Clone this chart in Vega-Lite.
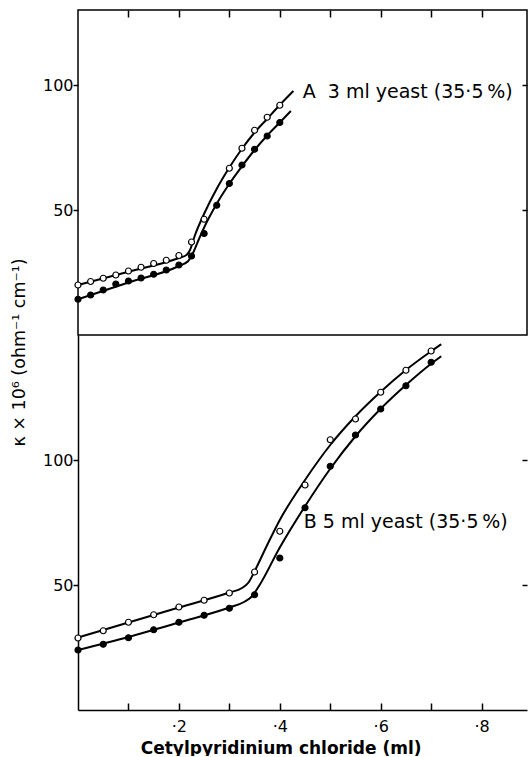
{
  "$schema": "https://vega.github.io/schema/vega-lite/v6.json",
  "background": "white",
  "padding": {"left": 9, "top": 8, "right": 2, "bottom": 0},
  "datasets": {
    "pts": [
      {"panel": "A", "series": "open", "x": 0, "y": 20},
      {"panel": "A", "series": "open", "x": 0.025, "y": 21.4},
      {"panel": "A", "series": "open", "x": 0.05, "y": 22.7},
      {"panel": "A", "series": "open", "x": 0.075, "y": 24},
      {"panel": "A", "series": "open", "x": 0.1, "y": 25.6},
      {"panel": "A", "series": "open", "x": 0.125, "y": 27.1},
      {"panel": "A", "series": "open", "x": 0.15, "y": 28.6},
      {"panel": "A", "series": "open", "x": 0.175, "y": 29.9},
      {"panel": "A", "series": "open", "x": 0.2, "y": 31.8},
      {"panel": "A", "series": "open", "x": 0.225, "y": 37.2},
      {"panel": "A", "series": "open", "x": 0.25, "y": 46.3},
      {"panel": "A", "series": "open", "x": 0.3, "y": 66.7},
      {"panel": "A", "series": "open", "x": 0.325, "y": 74.7},
      {"panel": "A", "series": "open", "x": 0.35, "y": 81.9},
      {"panel": "A", "series": "open", "x": 0.375, "y": 87.1},
      {"panel": "A", "series": "open", "x": 0.4, "y": 91.9},
      {"panel": "A", "series": "filled", "x": 0, "y": 14.3},
      {"panel": "A", "series": "filled", "x": 0.025, "y": 16},
      {"panel": "A", "series": "filled", "x": 0.05, "y": 18},
      {"panel": "A", "series": "filled", "x": 0.075, "y": 20.4},
      {"panel": "A", "series": "filled", "x": 0.1, "y": 21.6},
      {"panel": "A", "series": "filled", "x": 0.125, "y": 22.8},
      {"panel": "A", "series": "filled", "x": 0.15, "y": 24.3},
      {"panel": "A", "series": "filled", "x": 0.175, "y": 26},
      {"panel": "A", "series": "filled", "x": 0.2, "y": 28},
      {"panel": "A", "series": "filled", "x": 0.225, "y": 31.6},
      {"panel": "A", "series": "filled", "x": 0.25, "y": 40.6},
      {"panel": "A", "series": "filled", "x": 0.275, "y": 51.9},
      {"panel": "A", "series": "filled", "x": 0.3, "y": 60.6},
      {"panel": "A", "series": "filled", "x": 0.325, "y": 68},
      {"panel": "A", "series": "filled", "x": 0.35, "y": 74.3},
      {"panel": "A", "series": "filled", "x": 0.375, "y": 79.6},
      {"panel": "A", "series": "filled", "x": 0.4, "y": 85},
      {"panel": "B", "series": "open", "x": 0, "y": 28.8},
      {"panel": "B", "series": "open", "x": 0.05, "y": 31.7},
      {"panel": "B", "series": "open", "x": 0.1, "y": 35.1},
      {"panel": "B", "series": "open", "x": 0.15, "y": 38.1},
      {"panel": "B", "series": "open", "x": 0.2, "y": 41.2},
      {"panel": "B", "series": "open", "x": 0.25, "y": 43.9},
      {"panel": "B", "series": "open", "x": 0.3, "y": 46.8},
      {"panel": "B", "series": "open", "x": 0.35, "y": 55.2},
      {"panel": "B", "series": "open", "x": 0.4, "y": 71.5},
      {"panel": "B", "series": "open", "x": 0.45, "y": 90},
      {"panel": "B", "series": "open", "x": 0.5, "y": 108.1},
      {"panel": "B", "series": "open", "x": 0.55, "y": 116.4},
      {"panel": "B", "series": "open", "x": 0.6, "y": 127.1},
      {"panel": "B", "series": "open", "x": 0.65, "y": 135.9},
      {"panel": "B", "series": "open", "x": 0.7, "y": 143.6},
      {"panel": "B", "series": "filled", "x": 0, "y": 24},
      {"panel": "B", "series": "filled", "x": 0.05, "y": 26.3},
      {"panel": "B", "series": "filled", "x": 0.1, "y": 28.9},
      {"panel": "B", "series": "filled", "x": 0.15, "y": 32.1},
      {"panel": "B", "series": "filled", "x": 0.2, "y": 35.1},
      {"panel": "B", "series": "filled", "x": 0.25, "y": 37.9},
      {"panel": "B", "series": "filled", "x": 0.3, "y": 40.7},
      {"panel": "B", "series": "filled", "x": 0.35, "y": 46.1},
      {"panel": "B", "series": "filled", "x": 0.4, "y": 60.8},
      {"panel": "B", "series": "filled", "x": 0.45, "y": 80.9},
      {"panel": "B", "series": "filled", "x": 0.5, "y": 97.5},
      {"panel": "B", "series": "filled", "x": 0.55, "y": 110},
      {"panel": "B", "series": "filled", "x": 0.6, "y": 120.4},
      {"panel": "B", "series": "filled", "x": 0.65, "y": 129.7},
      {"panel": "B", "series": "filled", "x": 0.7, "y": 139.1}
    ],
    "fit": [
      {"panel": "A", "series": "open", "x": 0, "y": 20},
      {"panel": "A", "series": "open", "x": 0.1, "y": 25.3},
      {"panel": "A", "series": "open", "x": 0.2, "y": 30.8},
      {"panel": "A", "series": "open", "x": 0.215, "y": 32},
      {"panel": "A", "series": "open", "x": 0.222, "y": 34},
      {"panel": "A", "series": "open", "x": 0.232, "y": 40},
      {"panel": "A", "series": "open", "x": 0.25, "y": 48.5},
      {"panel": "A", "series": "open", "x": 0.275, "y": 58.5},
      {"panel": "A", "series": "open", "x": 0.3, "y": 67},
      {"panel": "A", "series": "open", "x": 0.325, "y": 74.5},
      {"panel": "A", "series": "open", "x": 0.35, "y": 81},
      {"panel": "A", "series": "open", "x": 0.375, "y": 86.5},
      {"panel": "A", "series": "open", "x": 0.4, "y": 92},
      {"panel": "A", "series": "open", "x": 0.427, "y": 97.6},
      {"panel": "A", "series": "filled", "x": 0, "y": 14.3},
      {"panel": "A", "series": "filled", "x": 0.1, "y": 21},
      {"panel": "A", "series": "filled", "x": 0.2, "y": 27.6},
      {"panel": "A", "series": "filled", "x": 0.218, "y": 29.5},
      {"panel": "A", "series": "filled", "x": 0.226, "y": 32},
      {"panel": "A", "series": "filled", "x": 0.24, "y": 38.5},
      {"panel": "A", "series": "filled", "x": 0.25, "y": 43},
      {"panel": "A", "series": "filled", "x": 0.275, "y": 52.5},
      {"panel": "A", "series": "filled", "x": 0.3, "y": 60.5},
      {"panel": "A", "series": "filled", "x": 0.325, "y": 67.5},
      {"panel": "A", "series": "filled", "x": 0.35, "y": 74},
      {"panel": "A", "series": "filled", "x": 0.375, "y": 79.8},
      {"panel": "A", "series": "filled", "x": 0.4, "y": 85},
      {"panel": "A", "series": "filled", "x": 0.422, "y": 89.6},
      {"panel": "B", "series": "open", "x": 0, "y": 29},
      {"panel": "B", "series": "open", "x": 0.1, "y": 35},
      {"panel": "B", "series": "open", "x": 0.2, "y": 41},
      {"panel": "B", "series": "open", "x": 0.3, "y": 47},
      {"panel": "B", "series": "open", "x": 0.325, "y": 48.8},
      {"panel": "B", "series": "open", "x": 0.338, "y": 51},
      {"panel": "B", "series": "open", "x": 0.35, "y": 55.5},
      {"panel": "B", "series": "open", "x": 0.375, "y": 66},
      {"panel": "B", "series": "open", "x": 0.4, "y": 76},
      {"panel": "B", "series": "open", "x": 0.45, "y": 92},
      {"panel": "B", "series": "open", "x": 0.5, "y": 106},
      {"panel": "B", "series": "open", "x": 0.55, "y": 117.5},
      {"panel": "B", "series": "open", "x": 0.6, "y": 127.3},
      {"panel": "B", "series": "open", "x": 0.65, "y": 136},
      {"panel": "B", "series": "open", "x": 0.7, "y": 143.5},
      {"panel": "B", "series": "open", "x": 0.72, "y": 146.3},
      {"panel": "B", "series": "filled", "x": 0, "y": 24},
      {"panel": "B", "series": "filled", "x": 0.1, "y": 29.2},
      {"panel": "B", "series": "filled", "x": 0.2, "y": 35},
      {"panel": "B", "series": "filled", "x": 0.3, "y": 41},
      {"panel": "B", "series": "filled", "x": 0.33, "y": 43.3},
      {"panel": "B", "series": "filled", "x": 0.345, "y": 45.5},
      {"panel": "B", "series": "filled", "x": 0.36, "y": 50},
      {"panel": "B", "series": "filled", "x": 0.4, "y": 65},
      {"panel": "B", "series": "filled", "x": 0.45, "y": 81.5},
      {"panel": "B", "series": "filled", "x": 0.5, "y": 96.5},
      {"panel": "B", "series": "filled", "x": 0.55, "y": 109.5},
      {"panel": "B", "series": "filled", "x": 0.6, "y": 120.5},
      {"panel": "B", "series": "filled", "x": 0.65, "y": 130},
      {"panel": "B", "series": "filled", "x": 0.7, "y": 138.5},
      {"panel": "B", "series": "filled", "x": 0.72, "y": 141.5}
    ],
    "labels": [
      {"panel": "A", "x": 0.4455, "y": 95, "text": "A\u00a0\u00a03 ml yeast (35·5\u2009%)"},
      {"panel": "B", "x": 0.4475, "y": 72.8, "text": "B 5 ml yeast (35·5\u2009%)"}
    ]
  },
  "vconcat": [
    {
      "width": 449,
      "height": 325,
      "view": {"stroke": "black", "strokeWidth": 1.5},
      "layer": [
        {
          "data": {"name": "fit"},
          "transform": [{"filter": "datum.panel === 'A'"}],
          "mark": {"type": "line", "stroke": "black", "strokeWidth": 2, "interpolate": "monotone"},
          "encoding": {
            "x": {"field": "x", "type": "quantitative", "scale": {"domain": [0, 0.89], "nice": false},
              "axis": {"orient": "top", "values": [0.1, 0.2, 0.3, 0.4, 0.5, 0.6, 0.7, 0.8], "tickSize": -7, "labels": false, "domain": false, "title": null}},
            "y": {"field": "y", "type": "quantitative", "scale": {"domain": [0, 130], "nice": false},
              "axis": {"orient": "left", "values": [50, 100], "tickSize": 5, "labelPadding": 0, "domain": false,
                "title": "κ × 10⁶ (ohm⁻¹ cm⁻¹)", "titleX": -50, "titleY": 342, "titleAngle": 270, "titleAlign": "center", "titleBaseline": "bottom", "titleFontSize": 17.5, "titleFontWeight": "normal"}},
            "detail": {"field": "series"}
          }
        },
        {
          "data": {"name": "pts"},
          "transform": [{"filter": "datum.panel === 'A'"}],
          "mark": {"type": "circle", "stroke": "black", "strokeWidth": 1.2, "size": 36, "opacity": 1},
          "encoding": {
            "x": {"field": "x", "type": "quantitative", "axis": null},
            "y": {"field": "y", "type": "quantitative",
              "axis": {"orient": "right", "values": [50, 100], "tickSize": -5, "labels": false, "domain": false, "title": null}},
            "fill": {"field": "series", "type": "nominal", "scale": {"domain": ["open", "filled"], "range": ["white", "black"]}, "legend": null}
          }
        },
        {
          "data": {"name": "labels"},
          "transform": [{"filter": "datum.panel === 'A'"}],
          "mark": {"type": "text", "align": "left", "baseline": "alphabetic", "fontSize": 19, "font": "DejaVu Sans", "color": "black"},
          "encoding": {
            "x": {"field": "x", "type": "quantitative", "axis": null},
            "y": {"field": "y", "type": "quantitative", "axis": null},
            "text": {"field": "text"}
          }
        }
      ],
      "resolve": {"axis": {"x": "independent", "y": "independent"}}
    },
    {
      "width": 449,
      "height": 375,
      "view": {"stroke": null},
      "layer": [
        {
          "data": {"name": "fit"},
          "transform": [{"filter": "datum.panel === 'B'"}],
          "mark": {"type": "line", "stroke": "black", "strokeWidth": 2, "interpolate": "monotone"},
          "encoding": {
            "x": {"field": "x", "type": "quantitative", "scale": {"domain": [0, 0.89], "nice": false},
              "axis": {"orient": "bottom", "values": [0.1, 0.2, 0.3, 0.4, 0.5, 0.6, 0.7, 0.8], "tickSize": -7, "labelPadding": 15,
                "labelExpr": "(round(datum.value*10) % 2 == 0) ? '·' + round(datum.value*10) : ''",
                "domain": true,
                "title": "Cetylpyridinium chloride (ml)", "titleX": 202.6, "titleY": 43, "titleAlign": "center", "titleBaseline": "alphabetic", "titleFontSize": 17, "titleFontWeight": "bold"}},
            "y": {"field": "y", "type": "quantitative", "scale": {"domain": [0, 150], "nice": false},
              "axis": {"orient": "left", "values": [50, 100], "tickSize": 5, "labelPadding": 0, "domain": true, "title": null}},
            "detail": {"field": "series"}
          }
        },
        {
          "data": {"name": "pts"},
          "transform": [{"filter": "datum.panel === 'B'"}],
          "mark": {"type": "circle", "stroke": "black", "strokeWidth": 1.2, "size": 36, "opacity": 1},
          "encoding": {
            "x": {"field": "x", "type": "quantitative", "axis": null},
            "y": {"field": "y", "type": "quantitative",
              "axis": {"orient": "right", "values": [50, 100], "tickSize": -5, "labels": false, "domain": false, "title": null}},
            "fill": {"field": "series", "type": "nominal", "scale": {"domain": ["open", "filled"], "range": ["white", "black"]}, "legend": null}
          }
        },
        {
          "data": {"name": "labels"},
          "transform": [{"filter": "datum.panel === 'B'"}],
          "mark": {"type": "text", "align": "left", "baseline": "alphabetic", "fontSize": 19, "font": "DejaVu Sans", "color": "black"},
          "encoding": {
            "x": {"field": "x", "type": "quantitative", "axis": null},
            "y": {"field": "y", "type": "quantitative", "axis": null},
            "text": {"field": "text"}
          }
        }
      ],
      "resolve": {"axis": {"x": "independent", "y": "independent"}}
    }
  ],
  "spacing": 0,
  "bounds": "flush",
  "config": {
    "font": "DejaVu Sans",
    "axis": {
      "labelFont": "DejaVu Sans",
      "labelFontSize": 16,
      "labelColor": "black",
      "tickColor": "black",
      "tickWidth": 1.5,
      "domainColor": "black",
      "domainWidth": 1.5,
      "grid": false,
      "titleColor": "black",
      "titleFont": "DejaVu Sans"
    }
  }
}
